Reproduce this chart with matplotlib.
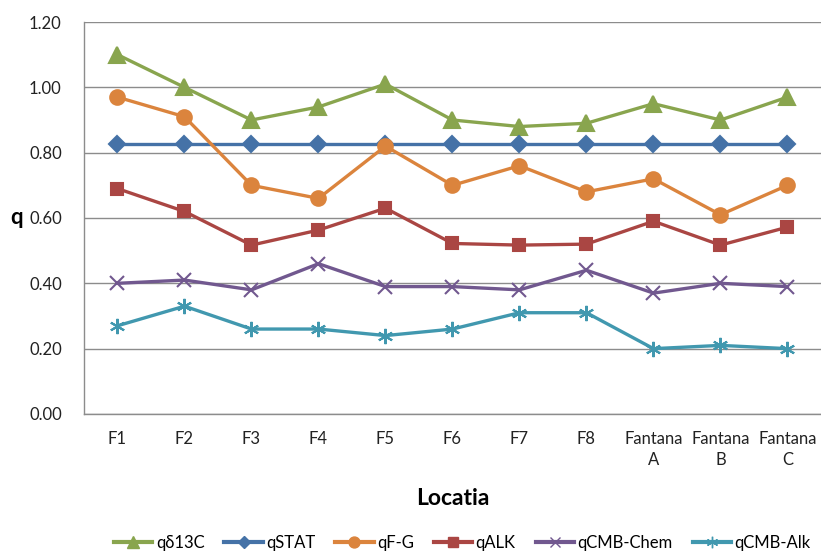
import matplotlib.pyplot as plt
from matplotlib.lines import Line2D

plt.rcParams['font.family'] = ['Lato', 'DejaVu Sans']

locatii = ["F1", "F2", "F3", "F4", "F5", "F6", "F7", "F8",
           "Fantana\nA", "Fantana\nB", "Fantana\nC"]

q_d13c = [1.10, 1.00, 0.90, 0.94, 1.01, 0.90, 0.88, 0.89, 0.95, 0.90, 0.97]
q_stat = [0.826] * 11
q_fg = [0.97, 0.91, 0.70, 0.66, 0.82, 0.70, 0.76, 0.68, 0.72, 0.61, 0.70]
q_alk = [0.69, 0.62, 0.517, 0.563, 0.63, 0.522, 0.517, 0.52, 0.59, 0.517, 0.572]
q_cmb_chem = [0.40, 0.41, 0.38, 0.46, 0.39, 0.39, 0.38, 0.44, 0.37, 0.40, 0.39]
q_cmb_alk = [0.27, 0.33, 0.26, 0.26, 0.24, 0.26, 0.31, 0.31, 0.20, 0.21, 0.20]

series = [
    ("q\u03b413C", q_d13c, "#89A54E", "^", 11.5),
    ("qSTAT", q_stat, "#4572A7", "D", 8.5),
    ("qF-G", q_fg, "#DB843D", "o", 10.5),
    ("qALK", q_alk, "#AA4643", "s", 9),
    ("qCMB-Chem", q_cmb_chem, "#71588F", "x", 10),
    ("qCMB-Alk", q_cmb_alk, "#4198AF", (6, 2, 0), 11),
]

fig = plt.figure(figsize=(8.21, 5.53), dpi=100)
ax = fig.add_axes([0.1023, 0.2514, 0.8977, 0.7088])

x = list(range(len(locatii)))
handles = []
for name, vals, color, mk, ms in series:
    ax.plot(x, vals, color=color, lw=2.4, marker=mk, markersize=ms,
            markerfacecolor=color, markeredgecolor=color, markeredgewidth=1.5,
            zorder=3)
    # legend keys use a smaller marker, like the spreadsheet legend
    handles.append(Line2D([], [], color=color, lw=3, marker=mk, markersize=ms * 0.75,
                          markerfacecolor=color, markeredgecolor=color,
                          markeredgewidth=1.0))

ax.set_xlim(-0.5, len(locatii) - 0.5)
ax.set_ylim(0, 1.2)
yt = [0, 0.2, 0.4, 0.6, 0.8, 1.0, 1.2]
ax.set_yticks(yt)
ax.set_yticklabels([f"{v:.2f}" for v in yt])
ax.set_xticks(x)
ax.set_xticklabels(locatii, linespacing=1.4)
ax.tick_params(length=0, labelsize=12, colors="#222222", pad=12)
ax.tick_params(axis="y", pad=16)

ax.grid(axis="y", color="#8c8c8c", lw=1)
ax.set_axisbelow(True)
for side in ("top", "right"):
    ax.spines[side].set_visible(False)
for side in ("left", "bottom"):
    ax.spines[side].set_color("#8c8c8c")
    ax.spines[side].set_linewidth(1)

ax.set_ylabel("q", fontsize=16, fontweight="bold", rotation=0, va="center", ha="center")
ax.yaxis.set_label_coords(-0.091, 0.5)
ax.set_xlabel("Locatia", fontsize=16.5, fontweight="bold")
ax.xaxis.set_label_coords(0.5, -0.188)

fig.legend(handles, [s[0] for s in series], loc="lower center",
           bbox_to_anchor=(0.563, -0.024), ncol=6, frameon=False, fontsize=12,
           handlelength=2.3, columnspacing=1.2, handletextpad=0.2)

fig.savefig("out.png", dpi=100)
